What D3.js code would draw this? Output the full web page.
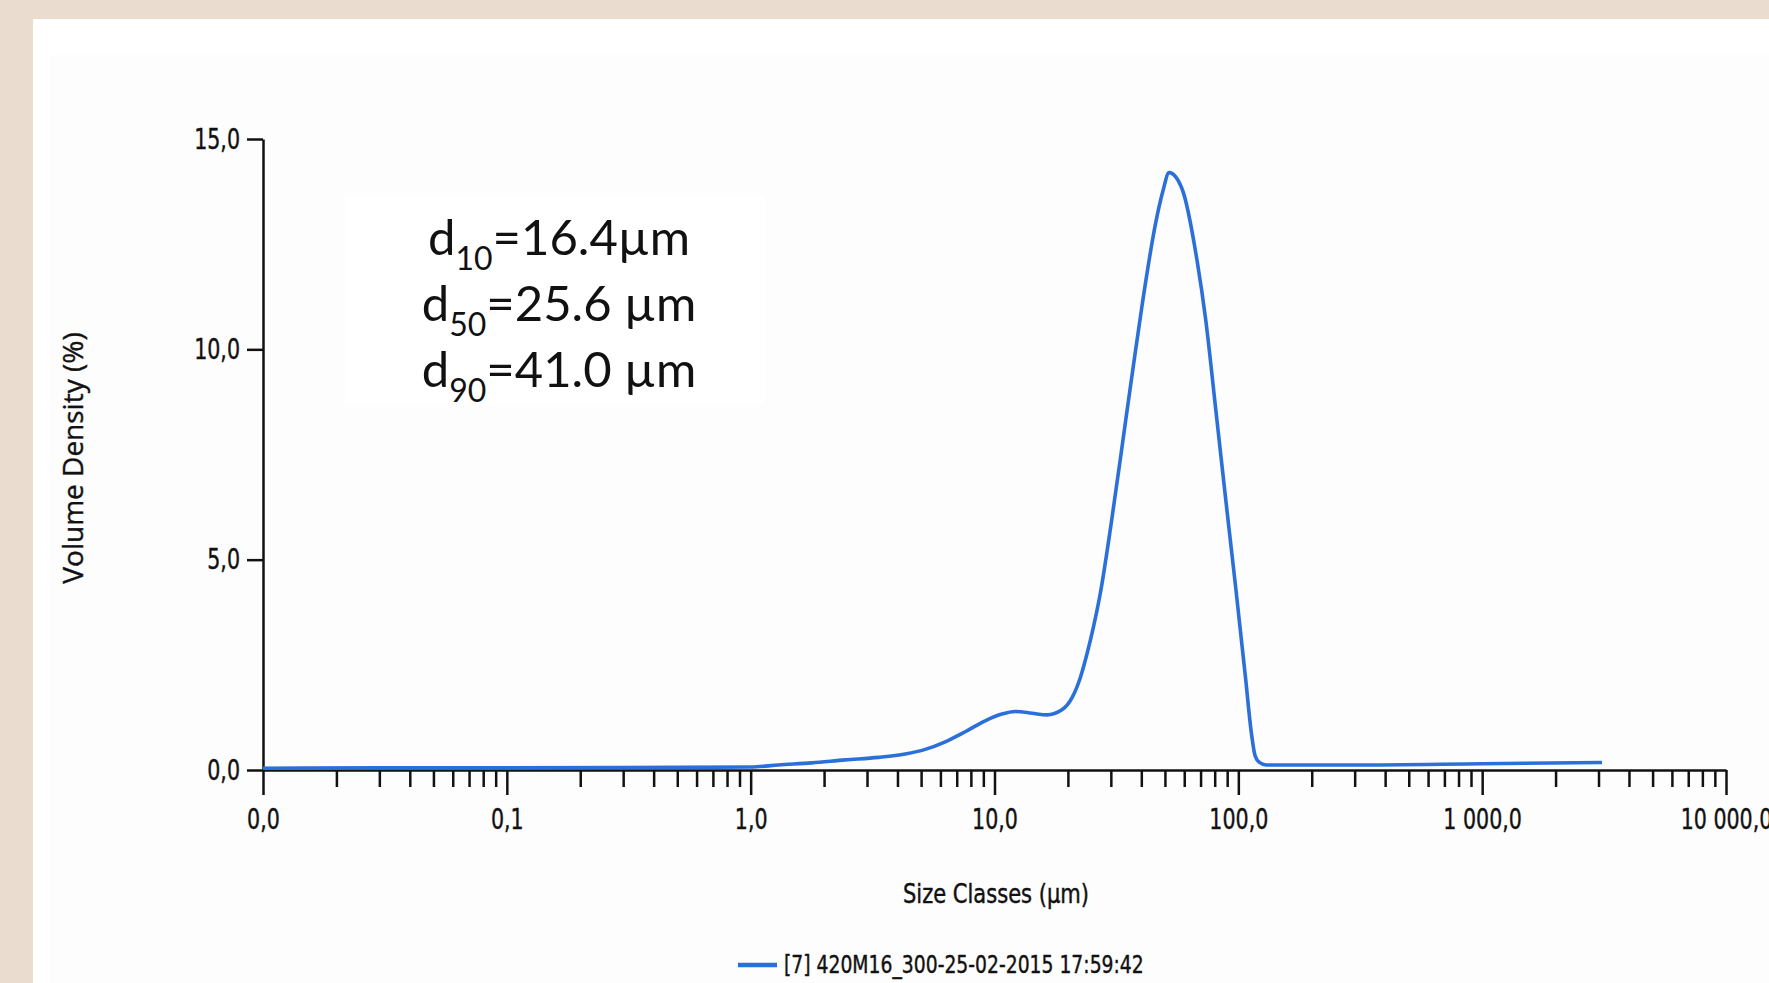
<!DOCTYPE html>
<html>
<head>
<meta charset="utf-8">
<script src="https://cdn.jsdelivr.net/npm/d3@7"></script>
<style>
  body { margin: 0; background: #eadccf; }
  svg { display: block; }
</style>
</head>
<body>
<svg width="1769" height="983"></svg>
<script>
// particle size distribution
const sizes = [0.01, 0.03, 0.1, 0.3, 1.0, 1.3, 1.78, 2.44, 3.34, 4.3, 5.2, 6.28, 7.59, 9.16,
  10.73, 12.17, 14.25, 16.4, 18.9, 20.8, 22.5, 24.0, 25.5, 27.2, 30, 34.5, 37.3, 40.3, 45.8,
  49, 52, 58.9, 67.9, 73.5, 80.8, 88.9, 97.7, 107, 113, 117, 122, 130, 300, 1000, 3100];
const volumes = [0.04, 0.05, 0.05, 0.06, 0.07, 0.12, 0.17, 0.24, 0.30, 0.38, 0.49, 0.67, 0.91, 1.17,
  1.33, 1.39, 1.35, 1.31, 1.43, 1.72, 2.2, 2.78, 3.42, 4.22, 5.8, 8.3, 9.7, 11.05, 13.0,
  13.75, 14.2, 13.8, 12.07, 10.7, 8.57, 6.4, 4.3, 2.2, 0.9, 0.35, 0.18, 0.12, 0.12, 0.15, 0.18];

const yTicks = [0, 5, 10, 15];
const xMajor = [0.01, 0.1, 1, 10, 100, 1000, 10000];
const xMinor = d3.range(-2, 4).flatMap(e => d3.range(2, 10).map(m => m * Math.pow(10, e)));

const dText = [
  {sub: '10', val: '=16.4µm'},
  {sub: '50', val: '=25.6 µm'},
  {sub: '90', val: '=41.0 µm'}
];
const legendLabel = '[7] 420M16_300-25-02-2015 17:59:42';

const locale = d3.formatLocale({decimal: ',', thousands: ' ', grouping: [3], currency: ['', '']});
const fmt = locale.format(',.1f');

const svg = d3.select('svg');
const narrow = '"Liberation Sans Narrow", "DejaVu Sans Condensed", sans-serif';
const squeeze = 0.79; // the scan's labels are tall and narrow

// paper
svg.append('rect').attr('x', 33).attr('y', 19).attr('width', 1769 - 33).attr('height', 983 - 19).attr('fill', '#ffffff');
svg.append('rect').attr('x', 50).attr('y', 55).attr('width', 1769 - 50).attr('height', 983 - 55).attr('fill', '#fdfdfd');
svg.append('rect').attr('x', 345).attr('y', 196).attr('width', 420).attr('height', 207).attr('fill', '#ffffff');

const x = d3.scaleLog().domain([0.01, 10000]).range([263, 1726]);
const y = d3.scaleLinear().domain([0, 15]).range([770, 139]);

// scanned print: slightly heavier glyphs
const ink = sel => sel.attr('fill', '#111').attr('stroke', '#111').attr('stroke-width', 0.4);

// minor ticks
svg.append('g')
  .attr('transform', `translate(0,${y(0)})`)
  .call(d3.axisBottom(x).tickValues(xMinor).tickSize(17).tickSizeOuter(0).tickFormat(''))
  .call(g => g.select('.domain').remove())
  .call(g => g.selectAll('line').attr('stroke', '#111').attr('stroke-width', 2.5));

// major ticks + labels
svg.append('g')
  .attr('transform', `translate(0,${y(0)})`)
  .call(d3.axisBottom(x).tickValues(xMajor).tickSize(25).tickSizeOuter(0).tickPadding(13).tickFormat(fmt))
  .call(g => g.select('.domain').attr('stroke', '#111').attr('stroke-width', 2.5))
  .call(g => g.selectAll('line').attr('stroke', '#111').attr('stroke-width', 2.5))
  .call(g => g.selectAll('text').attr('font-family', narrow).attr('font-size', 29)
    .call(ink).attr('transform', `scale(${squeeze},1)`));

svg.append('g')
  .attr('transform', `translate(${x(0.01)},0)`)
  .call(d3.axisLeft(y).tickValues(yTicks).tickSize(16).tickSizeOuter(0).tickPadding(7).tickFormat(fmt))
  .call(g => g.select('.domain').attr('stroke', '#111').attr('stroke-width', 2.5))
  .call(g => g.selectAll('line').attr('stroke', '#111').attr('stroke-width', 2.5))
  .call(g => g.selectAll('text').attr('font-family', narrow).attr('font-size', 29)
    .call(ink).attr('x', -23 / squeeze).attr('transform', `scale(${squeeze},1)`));

// distribution curve
const pts = sizes.map((s, i) => [s, volumes[i]]);
svg.append('path')
  .datum(pts)
  .attr('fill', 'none')
  .attr('stroke', '#2b70d8')
  .attr('stroke-width', 3.6)
  .attr('stroke-linejoin', 'round')
  .attr('d', d3.line().x(d => x(d[0])).y(d => y(d[1])).curve(d3.curveMonotoneX));

// axis titles
svg.append('text')
  .attr('transform', 'translate(996,903) scale(0.9,1)')
  .attr('text-anchor', 'middle')
  .attr('font-family', narrow).attr('font-size', 26).call(ink)
  .text('Size Classes (µm)');

svg.append('text')
  .attr('transform', 'translate(83,458) rotate(-90)')
  .attr('text-anchor', 'middle')
  .attr('font-family', '"Open Sans", sans-serif').attr('font-size', 28).call(ink)
  .text('Volume Density (%)');

// d-values
const dt = svg.append('g').attr('font-family', 'Lato, sans-serif').attr('fill', '#111');
dText.forEach((d, i) => {
  const t = dt.append('text')
    .attr('x', 559).attr('y', 255 + i * 66)
    .attr('text-anchor', 'middle')
    .attr('font-size', 49);
  t.append('tspan').text('d');
  t.append('tspan').attr('font-size', 32).attr('dy', 15).text(d.sub);
  t.append('tspan').attr('dy', -15).text(d.val);
});

// legend
svg.append('line')
  .attr('x1', 738).attr('x2', 777).attr('y1', 965).attr('y2', 965)
  .attr('stroke', '#2b70d8').attr('stroke-width', 4.5);
svg.append('text')
  .attr('transform', 'translate(784,973) scale(0.835,1)')
  .attr('font-family', narrow).attr('font-size', 25).call(ink)
  .text(legendLabel);
</script>
</body>
</html>
